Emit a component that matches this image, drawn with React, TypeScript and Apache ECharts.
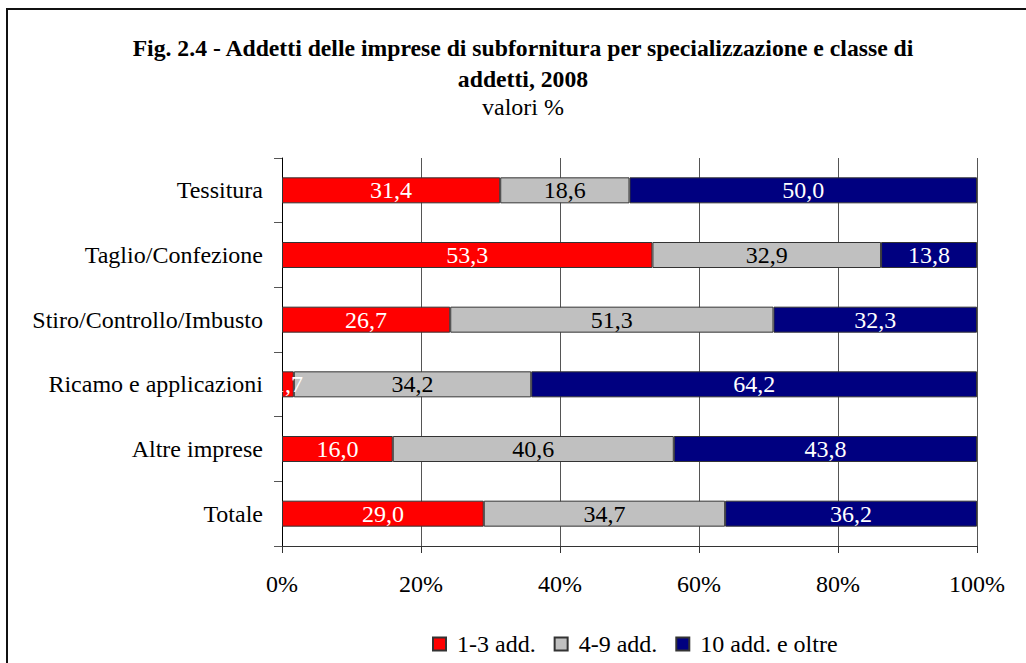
import React, { useEffect, useRef } from "react";
import * as echarts from "echarts";

const categories = [
  "Tessitura",
  "Taglio/Confezione",
  "Stiro/Controllo/Imbusto",
  "Ricamo e applicazioni",
  "Altre imprese",
  "Totale",
];
const small = [31.4, 53.3, 26.7, 1.7, 16.0, 29.0];
const medium = [18.6, 32.9, 51.3, 34.2, 40.6, 34.7];
const large = [50.0, 13.8, 32.3, 64.2, 43.8, 36.2];
const seriesNames = ["1-3 add.", "4-9 add.", "10 add. e oltre"];
const xTicks = [0, 20, 40, 60, 80, 100];

const FONT = "'Liberation Serif', 'Times New Roman', serif";
const FS = 24;

export default function App() {
  const ref = useRef<HTMLDivElement>(null);
  useEffect(() => {
    if (!ref.current) return;
    const chart = echarts.init(ref.current, null, { renderer: "svg" });
    const totals = categories.map((_, i) => small[i] + medium[i] + large[i]);
    const mk = (arr: number[]) =>
      arr.map((v, i) => ({ value: (v / totals[i]) * 100, raw: v }));
    const fmt = (p: any) => p.data.raw.toFixed(1).replace(".", ",");
    const colors = ["#FF0000", "#C0C0C0", "#000080"];
    const labelColors = ["#ffffff", "#000000", "#ffffff"];
    const datas = [small, medium, large];
    chart.setOption({
      animation: false,
      textStyle: { fontFamily: FONT },
      graphic: [
        {
          type: "rect",
          shape: { x: 7, y: 9, width: 1100, height: 700 },
          style: { fill: "none", stroke: "#111", lineWidth: 2 },
          silent: true,
        },
        {
          type: "text",
          x: 523,
          y: 48,
          style: {
            text: "Fig. 2.4 - Addetti delle imprese di subfornitura per specializzazione e classe di",
            font: `bold 23.7px ${FONT}`,
            fill: "#000",
            align: "center",
            verticalAlign: "middle",
          },
        },
        {
          type: "text",
          x: 523,
          y: 79,
          style: {
            text: "addetti, 2008",
            font: `bold 23.7px ${FONT}`,
            fill: "#000",
            align: "center",
            verticalAlign: "middle",
          },
        },
        {
          type: "text",
          x: 523,
          y: 107,
          style: {
            text: "valori %",
            font: `${FS}px ${FONT}`,
            fill: "#000",
            align: "center",
            verticalAlign: "middle",
          },
        },
      ],
      legend: {
        left: 427,
        top: 627,
        itemWidth: 13,
        itemHeight: 13,
        itemGap: 18,
        icon: "rect",
        textStyle: { fontFamily: FONT, fontSize: FS, color: "#000", padding: [0, 0, 0, 6] },
        data: seriesNames,
      },
      grid: { left: 282, right: 49, top: 158, bottom: 117 },
      xAxis: {
        type: "value",
        min: 0,
        max: 100,
        interval: 20,
        axisLine: { show: true, lineStyle: { color: "#333", width: 1 } },
        axisTick: { show: true, length: 7, lineStyle: { color: "#333" } },
        splitLine: { show: true, lineStyle: { color: "#555", width: 1 } },
        axisLabel: {
          fontFamily: FONT,
          fontSize: FS,
          color: "#000",
          margin: 26,
          formatter: (v: number) => (xTicks.includes(v) ? `${v}%` : ""),
        },
      },
      yAxis: {
        type: "category",
        data: categories,
        inverse: true,
        axisLine: { show: true, lineStyle: { color: "#000", width: 1 } },
        axisTick: { show: true, length: 8, lineStyle: { color: "#555" } },
        axisLabel: { fontFamily: FONT, fontSize: FS, color: "#000", margin: 19 },
      },
      series: seriesNames.map((name, k) => ({
        name,
        type: "bar",
        stack: "total",
        barWidth: 26,
        data: mk(datas[k]),
        itemStyle: { color: colors[k], borderColor: "#333", borderWidth: 1 },
        label: {
          show: true,
          position: "inside",
          formatter: fmt,
          fontFamily: FONT,
          fontSize: FS,
          color: labelColors[k],
        },
      })),
    });
    return () => chart.dispose();
  }, []);
  return (
    <div
      ref={ref}
      style={{ position: "fixed", left: 0, top: 0, width: 1026, height: 663, background: "#fff" }}
    />
  );
}
